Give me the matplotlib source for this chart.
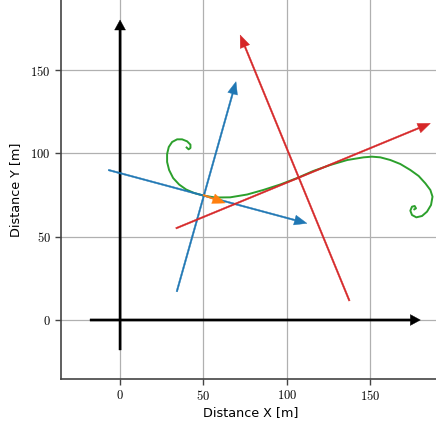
import numpy as np
import matplotlib
matplotlib.use('Agg')
import matplotlib.pyplot as plt
from matplotlib.ticker import FuncFormatter

plt.rcParams['mathtext.fontset'] = 'cm'

# coordinate axes arrows (start x, start y, dx, dy)
axis_arrows = [(-18, 0, 198, 0), (0, -18, 0, 198)]

# blue, red and orange arrows (start x, start y, dx, dy)
blue_arrows = [(-7, 90, 119, -32), (34, 17, 35.5, 126)]
red_arrows = [(33.5, 55, 152.5, 63), (137.5, 11.5, -65.5, 159.5)]
orange_arrows = [(49.8, 75, 13.2, -4.8)]

# green curve
green_x = [39.9, 41.1, 42.2, 42.2, 40.2, 37.2, 34.2, 31.2, 29.2, 28.2, 28.2, 29.4,
           31.8, 35.4, 39.6, 44.4, 49.8, 57.0, 66.0, 76.2, 85.8, 96.0, 106.2,
           115.8, 126.0, 136.2, 146.0, 151.0, 156.0, 162.0, 168.0, 174.0, 179.0,
           183.0, 186.0, 187.3, 186.4, 184.0, 181.0, 177.6, 175.0, 174.0, 175.0,
           176.6, 177.4, 176.4]
green_y = [103.5, 102.4, 103.2, 105.2, 107.2, 108.4, 108.4, 106.8, 103.8, 99.6,
           94.8, 90.0, 85.2, 81.3, 78.3, 76.2, 74.7, 73.5, 73.6, 75.3, 78.0, 81.3,
           85.2, 89.4, 93.0, 96.0, 97.6, 98.0, 97.6, 96.0, 93.6, 90.0, 86.4, 82.0,
           78.0, 74.0, 69.0, 65.0, 62.4, 61.6, 63.0, 65.6, 68.0, 68.4, 67.0, 66.4]

xticks = [0, 50, 100, 150]
yticks = [0, 50, 100, 150]

fig = plt.figure(figsize=(4.36, 4.28), dpi=100)
ax = fig.add_axes([61 / 436, 49 / 428, 1.01 - 61 / 436, 1.0 - 49 / 428])
ax.set_xlim(-35.4, 192)
ax.set_ylim(-35.4, 192)

ax.grid(True, color='#b0b0b0', lw=0.9, zorder=0)
ax.set_axisbelow(True)

for x, y, dx, dy in axis_arrows:
    ax.arrow(x, y, dx, dy, width=1.3, head_width=6.5, head_length=6,
             length_includes_head=True, color='black', lw=0.3, zorder=3)

ax.plot(green_x, green_y, color='#2ca02c', lw=1.4, zorder=2)

for x, y, dx, dy in blue_arrows:
    ax.arrow(x, y, dx, dy, width=0.9, head_width=6, head_length=7.5,
             length_includes_head=True, color='#1f77b4', lw=0.3, zorder=3)
for x, y, dx, dy in red_arrows:
    ax.arrow(x, y, dx, dy, width=0.9, head_width=6, head_length=7.5,
             length_includes_head=True, color='#d62728', lw=0.3, zorder=3)
for x, y, dx, dy in orange_arrows:
    ax.arrow(x, y, dx, dy, width=0.9, head_width=6, head_length=7.5,
             length_includes_head=True, color='#ff7f0e', lw=0.3, zorder=4)

ax.set_xticks(xticks)
ax.set_yticks(yticks)
fmt = FuncFormatter(lambda v, p: '$%g$' % v)
ax.xaxis.set_major_formatter(fmt)
ax.yaxis.set_major_formatter(fmt)
ax.tick_params(labelsize=9, color='#444444', width=1, length=4)

for s in ['top', 'right']:
    ax.spines[s].set_visible(False)
for s in ['left', 'bottom']:
    ax.spines[s].set_color('#444444')
    ax.spines[s].set_linewidth(1.2)

ax.set_xlabel('Distance X [m]', fontsize=9.2, labelpad=2)
ax.set_ylabel('Distance Y [m]', fontsize=9.2, labelpad=6)

fig.savefig('out.png', dpi=100)
